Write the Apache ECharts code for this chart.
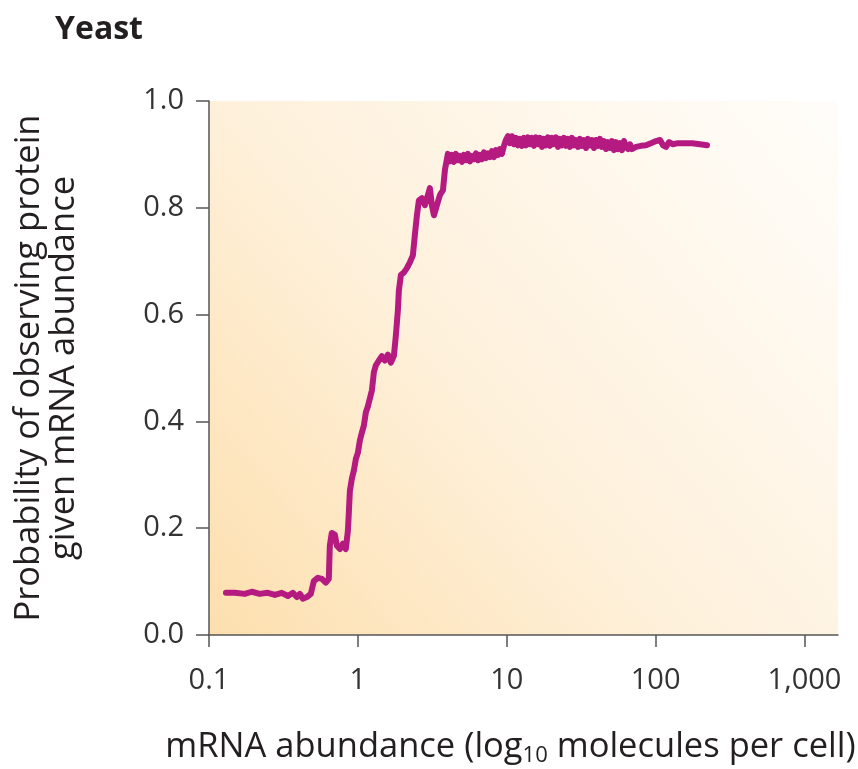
<!DOCTYPE html>
<html>
<head>
<meta charset="utf-8">
<script src="https://cdn.jsdelivr.net/npm/echarts@6/dist/echarts.min.js"></script>
<style>
html,body{margin:0;padding:0;background:#fff;}
#chart{width:858px;height:769px;}
</style>
</head>
<body>
<div id="chart"></div>
<script>
// mRNA abundance (molecules per cell)
const mrnaAbundance = [
  0.130,0.149,0.174,0.194,0.219,0.248,0.277,0.308,0.339,0.366,0.389,0.408,0.427,0.454,0.483,
  0.506,0.538,0.573,0.609,0.638,0.648,0.668,0.700,0.723,0.757,0.793,0.830,0.857,0.871,0.884,
  0.912,0.940,0.970,1.000,1.031,1.064,1.097,1.132,1.167,1.204,1.242,1.281,1.321,1.384,1.449,
  1.518,1.591,1.667,1.746,1.800,1.857,1.886,1.945,2.038,2.135,2.236,2.342,2.415,2.493,2.570,
  2.692,2.820,2.954,3.047,3.141,3.243,3.398,3.559,3.728,3.845,
  4.025,4.152,4.282,4.418,4.557,4.699,4.848,5.000,5.158,5.320,5.487,5.660,5.838,6.022,6.209,
  6.406,6.607,6.813,7.029,7.249,7.478,7.713,7.955,8.204,8.462,8.729,9.003,9.284,9.577,9.876,
  10.19,10.51,10.84,11.18,11.53,11.89,12.27,12.66,13.05,13.46,13.88,14.32,14.77,15.23,15.71,
  16.21,16.71,17.24,17.78,18.34,18.92,19.51,20.13,20.76,21.41,22.09,22.78,23.50,24.24,24.99,
  25.78,26.59,27.43,28.29,29.18,30.10,31.04,32.02,33.02,34.07,35.13,36.24,37.38,38.55,39.77,
  41.02,42.30,43.64,45.01,46.42,47.88,49.38,50.93,52.53,54.19,55.89,57.66,59.46,61.33,63.26,
  65.25,67.30,69.41,
  73.85,79.80,86.16,93.11,100.7,107.1,112.2,117.5,123.1,130.9,141.6,157.7,175.8,198.8,221.5
];
// Probability of observing protein given mRNA abundance
const probProtein = [
  0.079,0.079,0.077,0.081,0.077,0.079,0.075,0.079,0.073,0.079,0.071,0.077,0.068,0.071,0.077,
  0.101,0.107,0.105,0.098,0.105,0.167,0.191,0.188,0.167,0.161,0.171,0.161,0.195,0.233,0.270,
  0.293,0.308,0.330,0.341,0.364,0.379,0.392,0.417,0.428,0.443,0.458,0.492,0.505,0.514,0.522,
  0.514,0.525,0.510,0.523,0.561,0.608,0.645,0.674,0.679,0.687,0.698,0.711,0.749,0.786,0.814,
  0.818,0.805,0.824,0.837,0.805,0.786,0.805,0.824,0.833,0.871,
  0.901,0.887,0.899,0.886,0.901,0.889,0.897,0.886,0.899,0.889,0.901,0.887,0.897,0.891,0.902,
  0.889,0.899,0.891,0.904,0.893,0.902,0.895,0.906,0.895,0.908,0.899,0.910,0.901,0.916,0.927,
  0.934,0.921,0.934,0.919,0.931,0.917,0.929,0.916,0.931,0.917,0.932,0.919,0.931,0.916,0.932,
  0.919,0.931,0.914,0.929,0.917,0.932,0.916,0.931,0.919,0.932,0.914,0.929,0.917,0.931,0.916,
  0.929,0.914,0.931,0.917,0.927,0.914,0.929,0.916,0.927,0.912,0.929,0.917,0.927,0.912,0.927,
  0.916,0.929,0.914,0.925,0.910,0.923,0.912,0.925,0.908,0.923,0.910,0.921,0.908,0.925,0.914,
  0.910,0.919,0.910,
  0.914,0.916,0.917,0.921,0.925,0.927,0.917,0.914,0.923,0.919,0.921,0.921,0.921,0.919,0.917
];
const xTickValues = [0.1, 1, 10, 100, 1000];
const xTickLabels = ['0.1', '1', '10', '100', '1,000'];
const yTickLabels = ['0.0', '0.2', '0.4', '0.6', '0.8', '1.0'];

const seriesData = mrnaAbundance.map((x, i) => [x, probProtein[i]]);
const FONT = '"Open Sans", sans-serif';
const axisColor = '#555';

const chart = echarts.init(document.getElementById('chart'), null, {renderer: 'canvas'});
chart.setOption({
  animation: false,
  backgroundColor: '#fff',
  title: {
    text: 'Yeast',
    left: 50, top: 9,
    textStyle: {fontFamily: FONT, fontSize: 32, fontWeight: 'bold', color: '#231f20'}
  },
  grid: {
    left: 209, right: 20, top: 101, bottom: 134,
    outerBoundsMode: 'none',
    containLabel: false,
    show: true, borderWidth: 0,
    backgroundColor: new echarts.graphic.LinearGradient(0, 1, 1, 0, [
      {offset: 0, color: '#fddfae'},
      {offset: 0.45, color: '#fef1dc'},
      {offset: 1, color: '#fffdfa'}
    ])
  },
  xAxis: {
    type: 'log',
    logBase: 10,
    min: 0.1, max: 1680,
    name: '{n|mRNA abundance (log}{s|10}{n| molecules per cell)}',
    nameLocation: 'middle',
    nameGap: 92,
    nameTextStyle: {
      padding: [0, 26, 0, 0],
      rich: {
        n: {fontFamily: FONT, fontSize: 34.5, color: '#231f20'},
        s: {fontFamily: FONT, fontSize: 22, color: '#231f20', verticalAlign: 'bottom', padding: [18, 0, 0, 0]}
      }
    },
    axisLine: {show: true, lineStyle: {color: axisColor, width: 1.5}},
    axisTick: {show: true, length: 12, inside: false, customValues: xTickValues, lineStyle: {color: axisColor, width: 1.5}},
    axisLabel: {
      customValues: xTickValues,
      margin: 31,
      fontFamily: FONT, fontSize: 29, color: '#333',
      formatter: v => {
        const i = xTickValues.findIndex(t => Math.abs(Math.log10(t) - Math.log10(v)) < 1e-6);
        return i >= 0 ? xTickLabels[i] : '';
      }
    },
    splitLine: {show: false},
    minorTick: {show: false}
  },
  yAxis: {
    type: 'value',
    min: 0, max: 1, interval: 0.2,
    name: 'Probability of observing protein\ngiven mRNA abundance',
    nameLocation: 'middle',
    nameGap: 127,
    nameTextStyle: {fontFamily: FONT, fontSize: 34.5, color: '#231f20', lineHeight: 35},
    axisLine: {show: true, lineStyle: {color: axisColor, width: 1.5}},
    axisTick: {show: true, length: 13, lineStyle: {color: axisColor, width: 1.5}},
    axisLabel: {
      margin: 25,
      fontFamily: FONT, fontSize: 29, color: '#333',
      formatter: v => yTickLabels[Math.round(v / 0.2)]
    },
    splitLine: {show: false}
  },
  series: [{
    type: 'line',
    data: seriesData,
    showSymbol: false,
    symbol: 'none',
    smooth: false,
    lineStyle: {color: '#b41a80', width: 6, join: 'round', cap: 'round'}
  }]
});
</script>
</body>
</html>
